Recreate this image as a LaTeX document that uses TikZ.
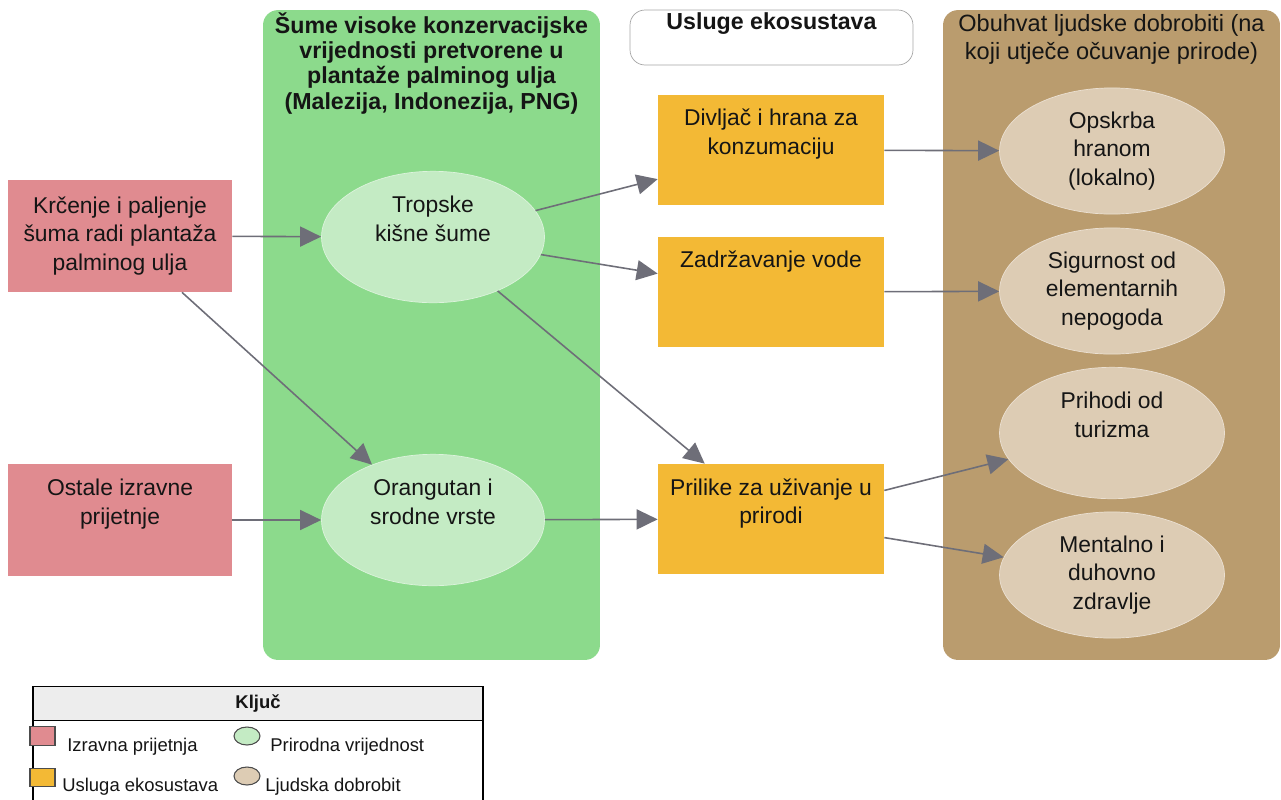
\documentclass[tikz,border=0pt]{standalone}
\usepackage{fontspec}
\setmainfont{Liberation Sans}
\usetikzlibrary{positioning, arrows.meta, shapes.geometric}
\definecolor{forestgreen}{HTML}{8CDA8C}
\definecolor{valuegreen}{HTML}{C4EBC4}
\definecolor{threatred}{HTML}{E08B90}
\definecolor{serviceorange}{HTML}{F3B935}
\definecolor{wellbrown}{HTML}{BA9C6E}
\definecolor{welltan}{HTML}{DDCCB4}
\definecolor{linkgray}{HTML}{6E6E78}
\definecolor{inkgray}{HTML}{151515}
\tikzset{
x=0.02cm, y=-0.02cm, % one unit is one pixel of the sketch
every node/.style={font=\fontsize{13}{16}\selectfont, text=inkgray, align=center},
panel/.style={rectangle, rounded corners=0.3cm, minimum width=6.74cm, minimum height=13cm}, % the two big columns
threat/.style={rectangle, fill=threatred, minimum width=4.48cm, minimum height=2.24cm},
service/.style={rectangle, fill=serviceorange, minimum width=4.52cm, minimum height=2.2cm},
value/.style={ellipse, fill=valuegreen, draw=valuegreen!60!white, minimum width=4.46cm, minimum height=2.2cm},
wellbeing/.style={ellipse, fill=welltan, draw=welltan!60!white, minimum width=4.5cm, minimum height=2.2cm},
link/.style={color=linkgray, line width=0.9pt, -{Triangle[length=0.42cm, width=0.4cm, color=linkgray, fill=linkgray]}}, % gray arrows
keyfont/.style={font=\fontsize{10.5}{12}\selectfont},
swatch/.style={draw=black!70, line width=0.6pt, minimum width=0.5cm, minimum height=0.37cm, inner sep=0pt},
}
\begin{document}
\begin{tikzpicture}
\useasboundingbox (0,0) rectangle (1281,799);
% columns
\node[panel, fill=forestgreen] (forest) at (431.5,335) {};
\node[panel, fill=wellbrown] (wellbeingcol) at (1111.5,335) {};
\node[rectangle, rounded corners=0.3cm, draw=black!35, fill=white, minimum width=5.66cm, minimum height=1.1cm] (servicehead) at (771.5,37.5) {};
\node[anchor=north, font=\bfseries\fontsize{13.2}{14.3}\selectfont, inner sep=2pt] (foresttitle) at (431.5,9) {Šume visoke konzervacijske\\vrijednosti pretvorene u\\plantaže palminog ulja\\(Malezija, Indonezija, PNG)};
\node[anchor=north, font=\bfseries\fontsize{13.2}{14.3}\selectfont, inner sep=2pt] (servicetitle) at (771.5,9) {Usluge ekosustava};
\node[anchor=north, font=\fontsize{13.4}{15.6}\selectfont, inner sep=2pt] (wellbeingtitle) at (1111.5,11) {Obuhvat ljudske dobrobiti (na\\koji utječe očuvanje prirode)};
% threats
\node[threat] (krcenje) at (120,236) {Krčenje i paljenje\\šuma radi plantaža\\palminog ulja};
\node[threat] (ostale) at (120,520) {Ostale izravne\\prijetnje\\\strut};
% natural values
\node[value] (tropske) at (433,237) {Tropske\\kišne šume\\\strut};
\node[value] (orangutan) at (433,520) {Orangutan i\\srodne vrste\\\strut};
% ecosystem services
\node[service] (divljac) at (771,150) {Divljač i hrana za\\konzumaciju\\\strut};
\node[service] (voda) at (771,292) {Zadržavanje vode\\\strut\\\strut};
\node[service] (prilike) at (771,519) {Prilike za uživanje u\\prirodi\\\strut};
% human wellbeing
\node[wellbeing] (opskrba) at (1112,151) {Opskrba\\hranom\\(lokalno)};
\node[wellbeing] (sigurnost) at (1112,291) {Sigurnost od\\elementarnih\\nepogoda};
\node[wellbeing] (prihodi) at (1112,433) {Prihodi od\\turizma\\\strut};
\node[wellbeing] (mentalno) at (1112,575) {Mentalno i\\duhovno\\zdravlje};
\draw[link] (krcenje) edge[link] (tropske)
(krcenje) edge[link] (orangutan)
(ostale) edge[link] (orangutan)
(tropske) edge[link] (divljac)
(tropske) edge[link] (voda)
(tropske) edge[link] (prilike)
(orangutan) edge[link] (prilike)
(divljac) edge[link] (opskrba)
(voda) edge[link] (sigurnost)
(prilike) edge[link] (prihodi)
(prilike) -- (mentalno);
% key
\node[rectangle, draw=black, line width=0.8pt, fill=black!7, minimum width=9cm, minimum height=0.68cm, outer sep=0pt, keyfont, font=\bfseries\fontsize{10.5}{12}\selectfont] (keytitle) at (258,703.5) {Ključ};
\node[rectangle, draw=black, line width=0.8pt, minimum width=9cm, minimum height=1.7cm, outer sep=0pt, below=0pt of keytitle] (keybody) {};
\node[swatch, fill=threatred] (keythreat) at (42.5,736) {};
\node[swatch, fill=serviceorange] (keyservice) at (42.5,777.5) {};
\node[swatch, ellipse, fill=valuegreen, minimum width=0.52cm, minimum height=0.36cm] (keyvalue) at (247,736) {};
\node[swatch, ellipse, fill=welltan, minimum width=0.52cm, minimum height=0.36cm] (keywell) at (247,776) {};
\node[keyfont, anchor=west, inner sep=0pt] (keythreattext) at (67,747) {Izravna prijetnja};
\node[keyfont, anchor=west, inner sep=0pt] (keyvaluetext) at (270,747) {Prirodna vrijednost};
\node[keyfont, anchor=west, inner sep=0pt] (keyservicetext) at (62,787) {Usluga ekosustava};
\node[keyfont, anchor=west, inner sep=0pt] (keywelltext) at (265,787) {Ljudska dobrobit};
\end{tikzpicture}
\end{document}
